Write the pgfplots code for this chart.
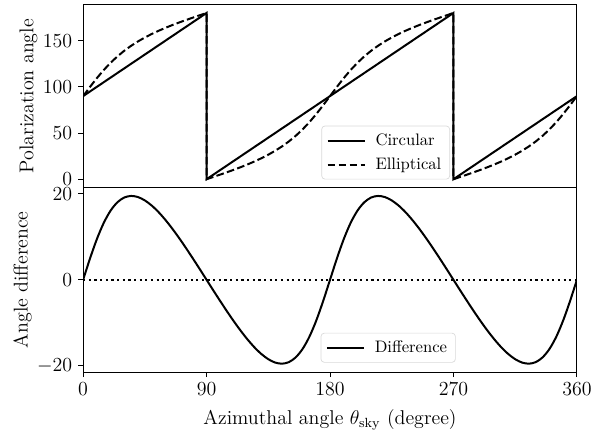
\documentclass[border=0pt]{standalone}
\usepackage{pgfplots}
\pgfplotsset{compat=1.18}
\usepackage{pgfplotstable}

\pgfplotstableread{
x y
0 90
90 180
90 0
270 180
270 0
360 90
}\circular

\pgfplotstableread{
x y
0 90
5 99.93
10 109.43
15 118.19
20 126.05
25 133.00
30 139.11
35 144.47
40 149.21
45 153.43
50 157.24
55 160.71
60 163.90
65 166.88
70 169.69
75 172.37
80 174.96
85 177.50
90 180
90 0
95 2.50
100 5.04
105 7.63
110 10.31
115 13.12
120 16.10
125 19.29
130 22.76
135 26.57
140 30.79
145 35.53
150 40.89
155 47.00
160 53.95
165 61.81
170 70.57
175 80.08
180 90
185 99.93
190 109.43
195 118.19
200 126.05
205 133.00
210 139.11
215 144.47
220 149.21
225 153.43
230 157.24
235 160.71
240 163.90
245 166.88
250 169.69
255 172.37
260 174.96
265 177.50
270 180
270 0
275 2.50
280 5.04
285 7.63
290 10.31
295 13.12
300 16.10
305 19.29
310 22.76
315 26.57
320 30.79
325 35.53
330 40.89
335 47.00
340 53.95
345 61.81
350 70.57
355 80.08
360 90
}\elliptical

\pgfplotstableread{
x y
0 0
5 4.93
10 9.43
15 13.19
20 16.05
25 18.00
30 19.11
35 19.47
40 19.21
45 18.43
50 17.24
55 15.71
60 13.90
65 11.88
70 9.69
75 7.37
80 4.96
85 2.50
90 0
95 -2.50
100 -4.96
105 -7.37
110 -9.69
115 -11.88
120 -13.90
125 -15.71
130 -17.24
135 -18.43
140 -19.21
145 -19.47
150 -19.11
155 -18.00
160 -16.05
165 -13.19
170 -9.43
175 -4.93
180 0
185 4.93
190 9.43
195 13.19
200 16.05
205 18.00
210 19.11
215 19.47
220 19.21
225 18.43
230 17.24
235 15.71
240 13.90
245 11.88
250 9.69
255 7.37
260 4.96
265 2.50
270 0
275 -2.50
280 -4.96
285 -7.37
290 -9.69
295 -11.88
300 -13.90
305 -15.71
310 -17.24
315 -18.43
320 -19.21
325 -19.47
330 -19.11
335 -18.00
340 -16.05
345 -13.19
350 -9.43
355 -4.93
360 0
}\difference

\pgfplotsset{
  panel/.style={
    width=297pt, height=111pt, scale only axis,
    xmin=0, xmax=360,
    axis line style={line width=0.6pt},
    tick align=outside, xtick pos=bottom, ytick pos=left,
    major tick length=3pt,
    every tick/.style={black, line width=0.6pt},
    tick label style={font=\large},
    label style={font=\large},
    ylabel style={yshift=-3.5pt},
    xlabel style={yshift=-1.5pt},
    legend style={font=\normalsize, draw=black!15, fill=white, fill opacity=0.8, text opacity=1,
      rounded corners=2pt, inner xsep=3pt, inner ysep=2.5pt, row sep=2pt},
    legend cell align=left,
    legend image code/.code={\draw[#1] (0cm,0cm) -- (0.78cm,0cm); \path (0.92cm,0cm);},
  }
}

\begin{document}
\begin{tikzpicture}
\begin{axis}[panel, name=top, height=110pt,
  ymin=-9, ymax=189, xtick=\empty,
  ytick={0,50,100,150},
  ylabel={Polarization angle},
  legend style={at={(0.743,0.044)}, anchor=south east},
]
\addplot[black, line width=1.2pt] table[x=x,y=y] {\circular};
\addlegendentry{Circular}
\addplot[black, line width=1.2pt, dash pattern=on 4.6pt off 2pt] table[x=x,y=y] {\elliptical};
\addlegendentry{Elliptical}
\end{axis}
\begin{axis}[panel, name=bottom, at={(top.south west)}, anchor=north west,
  ymin=-21.42, ymax=21.42,
  xtick={0,90,180,270,360},
  ytick={-20,0,20},
  ylabel={Angle difference},
  xlabel={Azimuthal angle $\theta_{\rm sky}$ (degree)},
  legend style={at={(0.481,0.051)}, anchor=south west},
]
\addplot[black, line width=1.2pt, smooth] table[x=x,y=y] {\difference};
\addlegendentry{Difference}
\addplot[black, line width=1.2pt, dash pattern=on 1.3pt off 2.1pt, forget plot] coordinates {(0,0) (360,0)};
\end{axis}
\path ([shift={(-50pt,2.8pt)}]top.north west) -- ([shift={(17.5pt,-34pt)}]bottom.south east);
\end{tikzpicture}
\end{document}
